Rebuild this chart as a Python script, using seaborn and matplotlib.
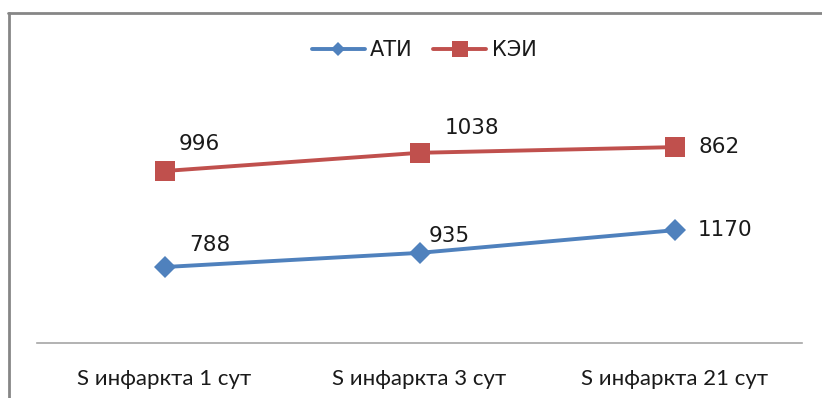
import matplotlib
matplotlib.use("Agg")
import matplotlib.pyplot as plt
from matplotlib.lines import Line2D
import seaborn as sns
import pandas as pd
import numpy as np

# Infarct area on days 1, 3 and 21 for the two groups (stacked line chart)
categories = ["S инфаркта 1 сут", "S инфаркта 3 сут", "S инфаркта 21 сут"]
ati_values = [788, 935, 1170]
kei_values = [996, 1038, 862]
series_names = ["АТИ", "КЭИ"]
colors = ["#4F81BD", "#C0504D"]

sns.set_theme(style="white")
plt.rcParams["font.family"] = ["DejaVu Sans"]

# stacked: the second series sits on top of the first
stacked_kei = list(np.array(ati_values) + np.array(kei_values))
df = pd.DataFrame({
    "x": list(range(len(categories))) * 2,
    "y": ati_values + stacked_kei,
    "label": ati_values + kei_values,
    "series": [series_names[0]] * 3 + [series_names[1]] * 3,
})

fig = plt.figure(figsize=(8.22, 3.98), dpi=100)
W, H = 822, 398
ax = fig.add_axes([37 / W, (H - 343) / H, (802 - 37) / W, (343 - 102) / H])

sns.lineplot(data=df, x="x", y="y", hue="series", style="series",
             palette=colors, markers={"АТИ": "D", "КЭИ": "s"}, dashes=False,
             linewidth=2.8, markersize=14.5, markeredgewidth=0, ax=ax,
             legend=False)
# the diamond path is larger than the square at equal size
ax.lines[0].set_markersize(11)

ax.set_xlim(-0.5, 2.5)
ax.set_ylim(0, 2500)
ax.set_xticks(range(len(categories)))
ax.set_xticklabels(categories, fontsize=16, color="#1a1a1a",
                   family=["Lato", "DejaVu Sans"])
ax.tick_params(axis="x", length=0, pad=19)
ax.set_yticks([])
ax.set_xlabel("")
ax.set_ylabel("")
for s in ["top", "right", "left"]:
    ax.spines[s].set_visible(False)
ax.spines["bottom"].set_color("#A6A6A6")
ax.spines["bottom"].set_linewidth(1.2)

# value labels, offsets in pixels (dx, dy)
offsets = [(45, 22), (30, 17), (50, 0), (35, 27), (52, 25), (45, 0)]
for (i, row), (dx, dy) in zip(df.iterrows(), offsets):
    ax.annotate(str(row["label"]), (row["x"], row["y"]),
                xytext=(dx * 0.72, dy * 0.72), textcoords="offset points",
                ha="center", va="center", fontsize=15.5, color="#1a1a1a")

handles = [Line2D([0], [0], color=colors[0], lw=2.8, marker="D", markersize=7.5,
                  markeredgewidth=0),
           Line2D([0], [0], color=colors[1], lw=2.8, marker="s", markersize=12,
                  markeredgewidth=0)]
fig.legend(handles, series_names, loc="center", bbox_to_anchor=(424 / W, 1 - 50 / H),
           ncol=2, frameon=False, fontsize=15, handlelength=2.55,
           handletextpad=0.25, columnspacing=1.0, labelcolor="#1a1a1a")

# outer chart frame (left and top edges)
fig.add_artist(Line2D([9 / W, 9 / W], [0, 1 - 13 / H], transform=fig.transFigure,
                      color="#868686", lw=2))
fig.add_artist(Line2D([8 / W, 1], [1 - 13 / H, 1 - 13 / H], transform=fig.transFigure,
                      color="#868686", lw=2))

fig.savefig("out.png", dpi=100, facecolor="white")
